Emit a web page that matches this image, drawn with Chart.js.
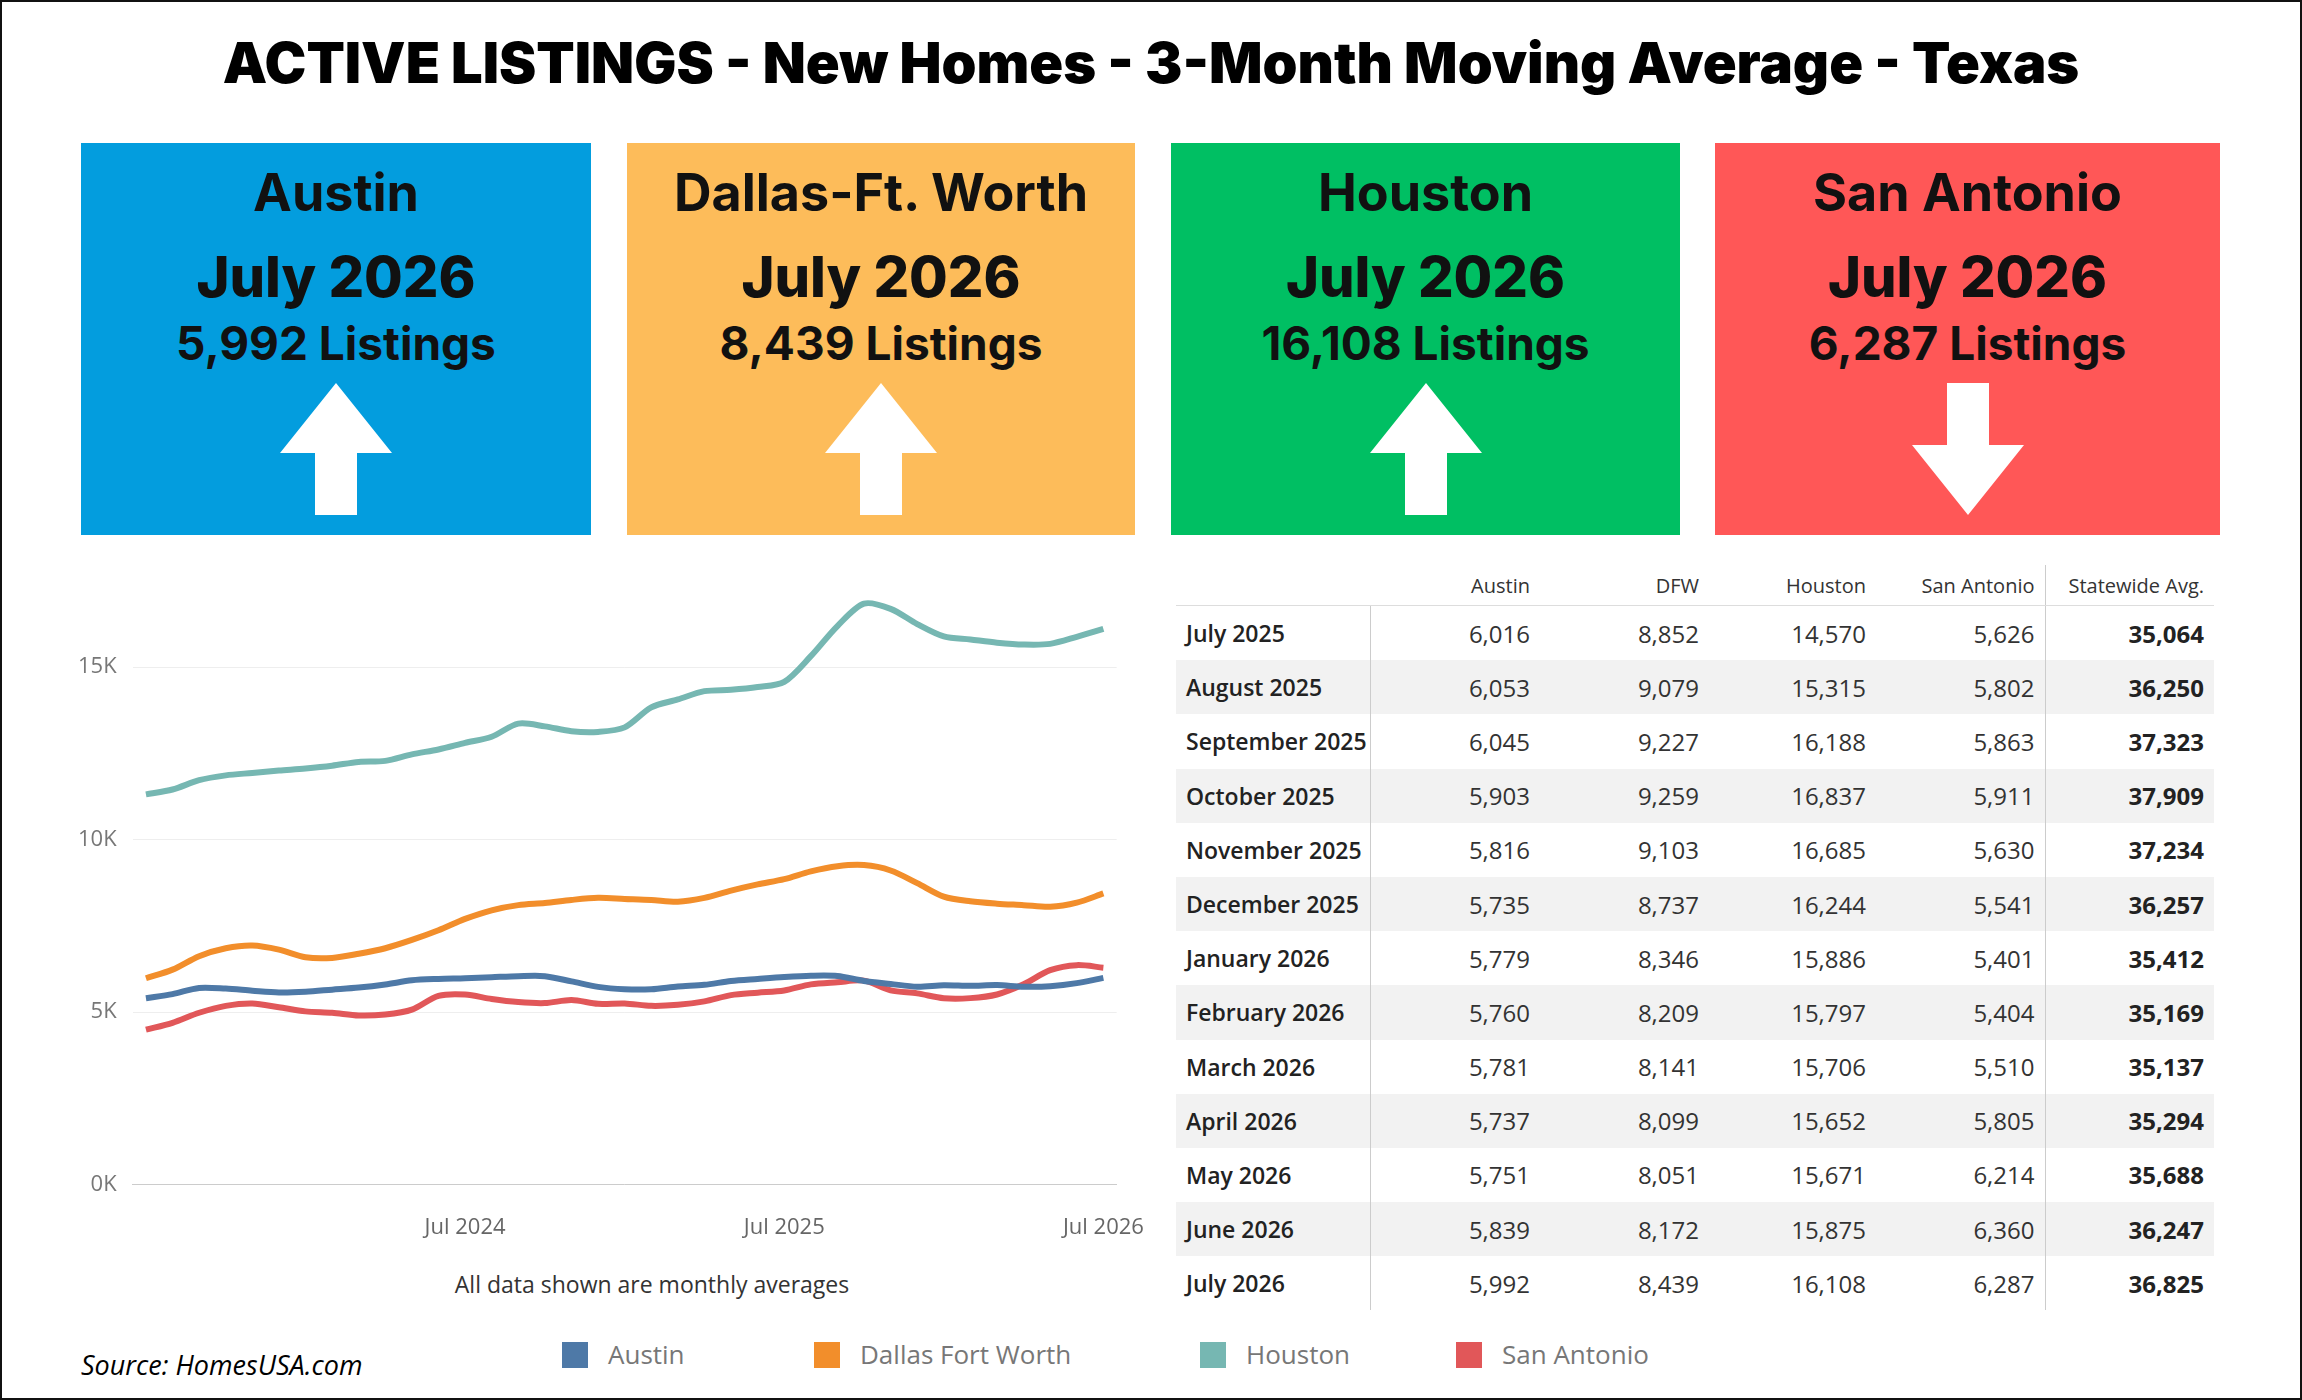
<!DOCTYPE html>
<html>
<head>
<meta charset="utf-8">
<script src="https://cdn.jsdelivr.net/npm/chart.js@4.4.0/dist/chart.umd.min.js"></script>
<style>
  body { margin: 0; background: #fff; font-family: Inter, "Open Sans", sans-serif; }
  #page { position: relative; width: 2298px; height: 1396px; border: 2px solid #111; overflow: hidden; }
  .abs { position: absolute; }
  #title { left: 0; width: 2298px; top: 27px; text-align: center; font-size: 56px; font-weight: 900; color: #000; }
  .card { position: absolute; top: 141px; height: 392px; text-align: center; color: #111; font-weight: 700; }
  .card .city { position: absolute; top: 18px; width: 100%; font-size: 52px; }
  .card .month { position: absolute; top: 100px; width: 100%; font-size: 56px; font-weight: 800; }
  .card .count { position: absolute; top: 172px; width: 100%; font-size: 46px; }
  .card svg { position: absolute; left: 50%; margin-left: -56px; top: 240px; }
  table { border-collapse: collapse; font-family: "Open Sans", sans-serif; table-layout: fixed; }
  td, th { padding: 0 10px 0 0; text-align: right; }
  th { font-weight: 400; font-size: 20px; color: #333; height: 40px; border-bottom: 1px solid #ddd; }
  td { font-size: 24px; color: #333; height: 54.2px; }
  td.m { text-align: left; padding-left: 10px; font-size: 23px; font-weight: 600; border-right: 1px solid #ccc; color: #222; white-space: nowrap; }
  td.s { font-weight: 700; border-left: 1px solid #ccc; color: #222; }
  tr.g td { background: #f2f2f2; }
  .leg { position: absolute; top: 1334px; font-size: 26px; color: #777; font-family: "Open Sans", sans-serif; }
  .leg span { display: inline-block; width: 26px; height: 26px; vertical-align: -4px; margin-right: 20px; }
</style>
</head>
<body>
<div id="page">
  <div id="title" class="abs">ACTIVE LISTINGS - New Homes - 3-Month Moving Average - Texas</div>
  <div id="cards"></div>
  <div class="abs" style="left:60px; top:553px; width:1104px; height:708px;"><canvas id="chart"></canvas></div>
  <div class="abs" style="left:300px; width:700px; top:1266px; text-align:center; font-size:23px; color:#333; font-family:'Open Sans',sans-serif;">All data shown are monthly averages</div>
  <div id="legend"></div>
  <div class="abs" style="left:79px; top:1344px; font-size:27px; font-style:italic; font-family:'Open Sans',sans-serif;">Source: HomesUSA.com</div>
  <div class="abs" style="left:1174px; top:563px; width:1038px;"><table id="tbl" style="width:1038px">
    <colgroup><col style="width:194px"><col style="width:170px"><col style="width:169px"><col style="width:167px"><col style="width:169px"><col style="width:169px"></colgroup>
  </table></div>
</div>
<script>
// series, Jul 2023 -> Jul 2026
const months = ['Jul 2023','Aug 2023','Sep 2023','Oct 2023','Nov 2023','Dec 2023','Jan 2024','Feb 2024','Mar 2024','Apr 2024','May 2024','Jun 2024',
  'Jul 2024','Aug 2024','Sep 2024','Oct 2024','Nov 2024','Dec 2024','Jan 2025','Feb 2025','Mar 2025','Apr 2025','May 2025','Jun 2025',
  'Jul 2025','Aug 2025','Sep 2025','Oct 2025','Nov 2025','Dec 2025','Jan 2026','Feb 2026','Mar 2026','Apr 2026','May 2026','Jun 2026','Jul 2026'];
const austin = [5400,5520,5700,5680,5620,5570,5590,5650,5710,5800,5920,5960,5980,6010,6040,6040,5890,5730,5660,5660,5740,5790,5900,5960,
  6016,6053,6045,5903,5816,5735,5779,5760,5781,5737,5751,5839,5992];
const dfw = [5980,6230,6620,6850,6930,6810,6590,6570,6690,6850,7090,7370,7700,7950,8100,8160,8250,8310,8280,8250,8200,8310,8520,8700,
  8852,9079,9227,9259,9103,8737,8346,8209,8141,8099,8051,8172,8439];
const houston = [11310,11450,11720,11860,11930,12000,12060,12140,12250,12280,12470,12610,12800,12980,13360,13280,13140,13120,13250,13830,14060,14300,14340,14420,
  14570,15315,16188,16837,16685,16244,15886,15797,15706,15652,15671,15875,16108];
const sanAntonio = [4490,4690,4980,5180,5250,5140,5020,4980,4900,4930,5070,5470,5510,5380,5290,5260,5350,5240,5250,5180,5210,5310,5490,5560,
  5626,5802,5863,5911,5630,5541,5401,5404,5510,5805,6214,6360,6287];
const statewide = [35064,36250,37323,37909,37234,36257,35412,35169,35137,35294,35688,36247,36825];
const tableMonths = ['July 2025','August 2025','September 2025','October 2025','November 2025','December 2025','January 2026',
  'February 2026','March 2026','April 2026','May 2026','June 2026','July 2026'];
const yTicks = [0, 5000, 10000, 15000];
const xTickLabels = ['Jul 2024','Jul 2025','Jul 2026'];

const cities = [
  {name:'Austin', listings:'5,992', up:true, color:'#039DDE', left:79, width:510},
  {name:'Dallas-Ft. Worth', listings:'8,439', up:true, color:'#FDBC5A', left:625, width:508},
  {name:'Houston', listings:'16,108', up:true, color:'#00BF63', left:1169, width:509},
  {name:'San Antonio', listings:'6,287', up:false, color:'#FF5757', left:1713, width:505}
];
const upArrow = '<svg width="112" height="132"><polygon points="56,0 112,70 77,70 77,132 35,132 35,70 0,70" fill="#fff"/></svg>';
const downArrow = '<svg width="112" height="132"><polygon points="56,132 112,62 77,62 77,0 35,0 35,62 0,62" fill="#fff"/></svg>';
document.getElementById('cards').innerHTML = cities.map(c =>
  `<div class="card" style="left:${c.left}px;width:${c.width}px;background:${c.color}">
    <div class="city">${c.name}</div><div class="month">July 2026</div>
    <div class="count">${c.listings} Listings</div>${c.up ? upArrow : downArrow}</div>`).join('');

const colors = {Austin:'#4E79A7', 'Dallas Fort Worth':'#F28E2B', Houston:'#76B7B2', 'San Antonio':'#E15759'};
const legX = [560, 812, 1198, 1454];
document.getElementById('legend').innerHTML = Object.keys(colors).map((k, i) =>
  `<div class="leg" style="left:${legX[i]}px"><span style="background:${colors[k]}"></span>${k}</div>`).join('');

const fmt = v => v.toLocaleString('en-US');
let html = '<tr><th></th><th>Austin</th><th>DFW</th><th>Houston</th><th>San Antonio</th><th style="border-left:1px solid #ccc">Statewide Avg.</th></tr>';
tableMonths.forEach((m, i) => {
  const k = 24 + i;
  html += `<tr class="${i % 2 ? 'g' : ''}"><td class="m">${m}</td><td>${fmt(austin[k])}</td><td>${fmt(dfw[k])}</td>
    <td>${fmt(houston[k])}</td><td>${fmt(sanAntonio[k])}</td><td class="s">${fmt(statewide[i])}</td></tr>`;
});
document.getElementById('tbl').insertAdjacentHTML('beforeend', html);

const mk = (label, data) => ({label, data, borderColor: colors[label], borderWidth: 6, pointRadius: 0, tension: 0.3, fill: false});
new Chart(document.getElementById('chart'), {
  type: 'line',
  data: {labels: months, datasets: [mk('Austin', austin), mk('Dallas Fort Worth', dfw), mk('Houston', houston), mk('San Antonio', sanAntonio)]},
  options: {
    responsive: true, maintainAspectRatio: false, animation: false,
    layout: {padding: {right: 10}},
    plugins: {legend: {display: false}, tooltip: {enabled: false}},
    scales: {
      x: {
        offset: true,
        grid: {display: false},
        border: {color: '#ccc', dash: [2, 2]},
        ticks: {autoSkip: false, maxRotation: 0, padding: 22, color: '#666', font: {size: 22, family: 'Open Sans'},
          callback: function (v) { const l = this.getLabelForValue(v); return xTickLabels.includes(l) ? l : ''; }}
      },
      y: {
        min: 0, max: 17400,
        afterBuildTicks: ax => { ax.ticks = yTicks.map(v => ({value: v})); },
        grid: {color: '#eee', drawTicks: false},
        border: {display: false},
        ticks: {padding: 16, color: '#777', font: {size: 22, family: 'Open Sans'}, callback: v => (v / 1000) + 'K'}
      }
    }
  }
});
</script>
</body>
</html>
